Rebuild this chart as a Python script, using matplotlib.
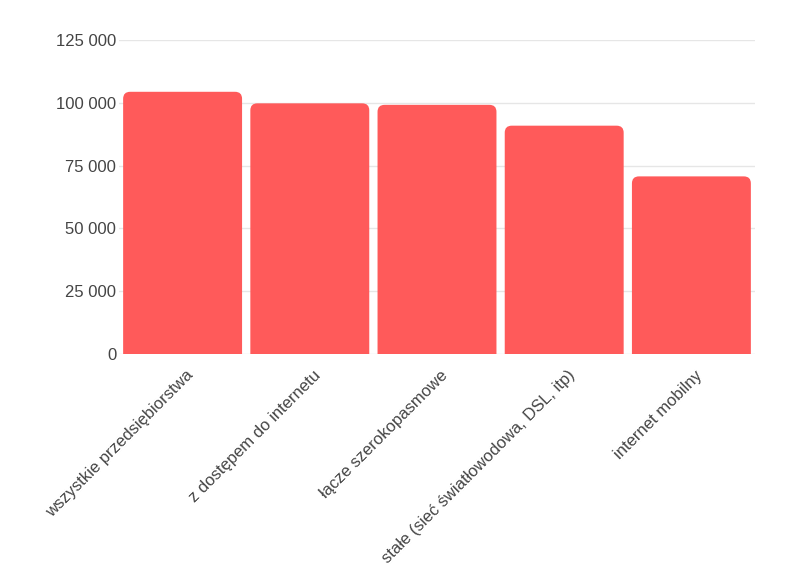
import matplotlib.pyplot as plt
from matplotlib.patches import FancyBboxPatch
from matplotlib.ticker import FuncFormatter
from matplotlib.transforms import ScaledTranslation

categories = ["wszystkie przedsiębiorstwa", "z dostępem do internetu",
              "łącze szerokopasmowe", "stałe (sieć światłowodowa, DSL, itp)",
              "internet mobilny"]
values = [104400, 99800, 99200, 90900, 70700]
yticks = [0, 25000, 50000, 75000, 100000, 125000]

plt.rcParams['font.family'] = ['Liberation Sans', 'DejaVu Sans']

fig = plt.figure(figsize=(8, 5.81), dpi=100)
ax_rect = [119 / 800, 0.391, 636 / 800, 0.54]
ax = fig.add_axes(ax_rect)

xmin, xmax = -0.5, len(categories) - 0.5
ymin, ymax = 0, 125000
ax.set_xlim(xmin, xmax)
ax.set_ylim(ymin, ymax)

# pixel scale, for rounded corners
ax_w = ax_rect[2] * 800
ax_h = ax_rect[3] * 581
xu = (xmax - xmin) / ax_w
yu = (ymax - ymin) / ax_h
r = 7 * xu
width = 0.935

for i, v in enumerate(values):
    p = FancyBboxPatch((i - width / 2, -10000), width, v + 10000,
                       boxstyle=f"round,pad=0,rounding_size={r}",
                       mutation_aspect=yu / xu,
                       facecolor="#ff5a5a", edgecolor="none", zorder=3)
    ax.add_patch(p)

ax.set_yticks(yticks)
ax.yaxis.set_major_formatter(FuncFormatter(lambda v, _: f"{int(v):,}".replace(",", " ")))
ax.grid(axis='y', color='#e6e6e6', linewidth=1, zorder=0)
ax.set_xticks(range(len(categories)))
ax.set_xticklabels(categories, rotation=45, ha='right', rotation_mode='anchor')
ax.tick_params(axis='both', length=0, labelsize=12, colors='#444444')
ax.tick_params(axis='x', pad=10)
ax.tick_params(axis='y', pad=2)

# nudge rotated labels a little to the right
shift = ScaledTranslation(3 / 100, 0, fig.dpi_scale_trans)
for lbl in ax.get_xticklabels():
    lbl.set_transform(lbl.get_transform() + shift)

for s in ax.spines.values():
    s.set_visible(False)

fig.savefig("out.png", dpi=100)
